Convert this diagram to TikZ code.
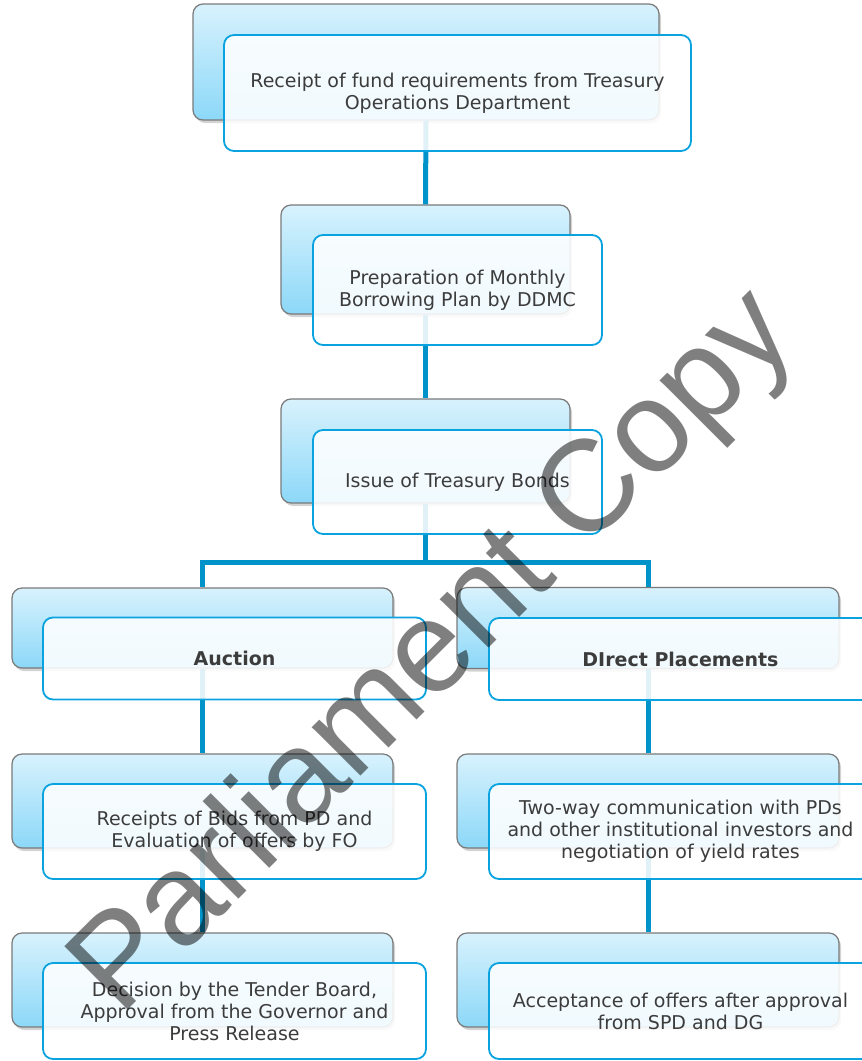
\documentclass[tikz,border=0pt]{standalone}
\usepackage{fontspec}
\setmainfont{DejaVu Sans}
\newfontfamily\wmfont{Liberation Sans}
\usetikzlibrary{shadows}
\definecolor{connblue}{HTML}{0093C9}
\definecolor{frontblue}{HTML}{0AA3DF}
\definecolor{backtop}{HTML}{D8F2FD}
\definecolor{backbot}{HTML}{8CD8F8}
\definecolor{backline}{HTML}{7A7A7A}
\definecolor{txt}{HTML}{3C3C3C}
\begin{document}
\begin{tikzpicture}[x=1pt,y=-1pt,
  backbox/.style={rectangle, rounded corners=10pt, draw=backline, line width=1.2pt,
    top color=backtop, bottom color=backbot, inner sep=0pt,
    drop shadow={shadow xshift=2pt, shadow yshift=-3pt, opacity=0.35}},
  frontbox/.style={rectangle, rounded corners=10pt, draw=frontblue, line width=1.8pt,
    fill=white, fill opacity=0.88, text opacity=1, inner sep=0pt, align=center,
    text=txt, font=\fontsize{19}{22}\selectfont},
  bold/.style={font=\fontsize{19}{22}\selectfont\bfseries},
  connector/.style={draw=connblue, line width=5pt},
  watermark/.style={rotate=45, text=black, text opacity=0.5, font=\wmfont\fontsize{130}{130}\selectfont}
]
\useasboundingbox (0,0) rectangle (862,1061);
\clip (0,0) rectangle (862,1061);

% back boxes
\node[backbox, minimum width=466pt, minimum height=116pt] (b1) at (426,62) {};
\node[backbox, minimum width=289pt, minimum height=109pt] (b2) at (425.5,259.5) {};
\node[backbox, minimum width=289pt, minimum height=104pt] (b3) at (425.5,451) {};
\node[backbox, minimum width=381pt, minimum height=80pt] (la) at (202.5,628) {};
\node[backbox, minimum width=382pt, minimum height=81pt] (ra) at (648,628) {};
\node[backbox, minimum width=381pt, minimum height=94pt] (lb) at (202.5,801) {};
\node[backbox, minimum width=382pt, minimum height=94pt] (rb) at (648,801) {};
\node[backbox, minimum width=381pt, minimum height=94pt] (lc) at (202.5,980) {};
\node[backbox, minimum width=382pt, minimum height=94pt] (rc) at (648,980) {};

% connectors (from back box border to back box border, under the front boxes)
\draw[connector] (b1.south) -- (b2.north);
\draw[connector] (b2.south) -- (b3.north);
\draw[connector] (b3.south) -- ++(0,58.5) coordinate (split);
\draw[connector, line join=miter] (split) -| (la.north);
\draw[connector, line join=miter] (split) -| (ra.north);
\draw[connector] (la.south) -- (lb.north);
\draw[connector] (lb.south) -- (lc.north);
\draw[connector] (ra.south) -- (rb.north);
\draw[connector] (rb.south) -- (rc.north);

% front boxes
\node[frontbox, minimum width=467pt, minimum height=116pt] (f1) at (457.5,93)
  {Receipt of fund requirements from Treasury\\Operations Department};
\node[frontbox, minimum width=289pt, minimum height=110pt] (f2) at (457.5,290)
  {Preparation of Monthly\\Borrowing Plan by DDMC};
\node[frontbox, minimum width=289pt, minimum height=104pt] (f3) at (457.5,482)
  {Issue of Treasury Bonds};
\node[frontbox, bold, minimum width=383pt, minimum height=82pt] (fla) at (234.5,658.5)
  {Auction};
\node[frontbox, bold, minimum width=383pt, minimum height=82pt] (fra) at (680.5,659)
  {DIrect Placements};
\node[frontbox, minimum width=383pt, minimum height=95pt] (flb) at (234.5,831.5)
  {Receipts of Bids from PD and\\Evaluation of offers by FO};
\node[frontbox, minimum width=383pt, minimum height=95pt] (frb) at (680.5,831.5)
  {Two-way communication with PDs\\and other institutional investors and\\negotiation of yield rates};
\node[frontbox, minimum width=383pt, minimum height=96pt] (flc) at (234.5,1011)
  {Decision by the Tender Board,\\Approval from the Governor and\\Press Release};
\node[frontbox, minimum width=383pt, minimum height=96pt] (frc) at (680.5,1011)
  {Acceptance of offers after approval\\from SPD and DG};

% watermark
\node[watermark] (wm) at (436,654) {Parliament Copy};
\end{tikzpicture}
\end{document}
